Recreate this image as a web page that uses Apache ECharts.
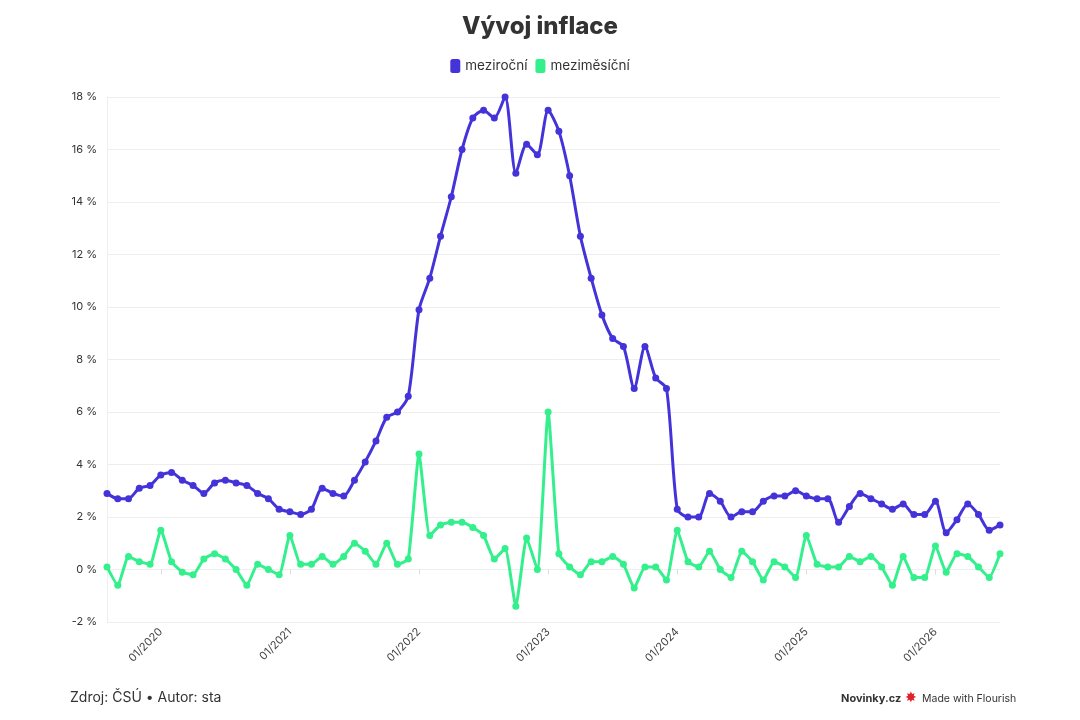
<!DOCTYPE html>
<html lang="cs">
  <head>
    <meta charset="UTF-8" />
    <title>Vývoj inflace</title>
    <script src="https://cdn.jsdelivr.net/npm/echarts@6/dist/echarts.min.js"></script>
    <style>
      html, body { margin: 0; padding: 0; background: #fff; }
      #chart { width: 1080px; height: 720px; }
    </style>
  </head>
  <body>
    <div id="chart"></div>
    <script>
      // months 08/2019 .. 07/2026
      const startYear = 2019;
      const startMonth = 8;
      const monthCount = 84;

      // meziroční (year on year), %
      const yoy = [
        2.9, 2.7, 2.7, 3.1, 3.2,
        3.6, 3.7, 3.4, 3.2, 2.9, 3.3, 3.4, 3.3, 3.2, 2.9, 2.7, 2.3,
        2.2, 2.1, 2.3, 3.1, 2.9, 2.8, 3.4, 4.1, 4.9, 5.8, 6.0, 6.6,
        9.9, 11.1, 12.7, 14.2, 16.0, 17.2, 17.5, 17.2, 18.0, 15.1, 16.2, 15.8,
        17.5, 16.7, 15.0, 12.7, 11.1, 9.7, 8.8, 8.5, 6.9, 8.5, 7.3, 6.9,
        2.3, 2.0, 2.0, 2.9, 2.6, 2.0, 2.2, 2.2, 2.6, 2.8, 2.8, 3.0,
        2.8, 2.7, 2.7, 1.8, 2.4, 2.9, 2.7, 2.5, 2.3, 2.5, 2.1, 2.1,
        2.6, 1.4, 1.9, 2.5, 2.1, 1.5, 1.7
      ];

      // meziměsíční (month on month), %
      const mom = [
        0.1, -0.6, 0.5, 0.3, 0.2,
        1.5, 0.3, -0.1, -0.2, 0.4, 0.6, 0.4, 0.0, -0.6, 0.2, 0.0, -0.2,
        1.3, 0.2, 0.2, 0.5, 0.2, 0.5, 1.0, 0.7, 0.2, 1.0, 0.2, 0.4,
        4.4, 1.3, 1.7, 1.8, 1.8, 1.6, 1.3, 0.4, 0.8, -1.4, 1.2, 0.0,
        6.0, 0.6, 0.1, -0.2, 0.3, 0.3, 0.5, 0.2, -0.7, 0.1, 0.1, -0.4,
        1.5, 0.3, 0.1, 0.7, 0.0, -0.3, 0.7, 0.3, -0.4, 0.3, 0.1, -0.3,
        1.3, 0.2, 0.1, 0.1, 0.5, 0.3, 0.5, 0.1, -0.6, 0.5, -0.3, -0.3,
        0.9, -0.1, 0.6, 0.5, 0.1, -0.3, 0.6
      ];

      const months = [];
      for (let i = 0; i < monthCount; i++) {
        const m = ((startMonth - 1 + i) % 12) + 1;
        const y = startYear + Math.floor((startMonth - 1 + i) / 12);
        months.push((m < 10 ? "0" : "") + m + "/" + y);
      }

      const isJanuary = (idx) => months[idx].startsWith("01/");
      const font = "Inter, 'Noto Sans', sans-serif";
      const blue = "#4433d9";
      const green = "#33f08c";

      const chart = echarts.init(document.getElementById("chart"));

      chart.setOption({
        backgroundColor: "#fff",
        animation: false,
        textStyle: { fontFamily: font },
        title: {
          text: "Vývoj inflace",
          left: "center",
          top: 10,
          textStyle: { fontSize: 24, fontWeight: 800, color: "#333", fontFamily: font }
        },
        legend: {
          top: 54,
          left: "center",
          icon: "roundRect",
          itemWidth: 10,
          itemHeight: 14,
          itemGap: 8,
          textStyle: { fontSize: 13.5, color: "#333", fontFamily: font },
          data: ["meziroční", "meziměsíční"]
        },
        grid: { left: 107, right: 80, top: 97, bottom: 98 },
        xAxis: {
          type: "category",
          data: months,
          boundaryGap: false,
          axisLine: { show: false },
          axisTick: {
            show: true,
            length: 5,
            interval: (idx) => isJanuary(idx),
            lineStyle: { color: "#ddd" }
          },
          axisLabel: {
            interval: (idx) => isJanuary(idx),
            rotate: 45,
            fontSize: 11,
            color: "#444",
            margin: 8
          },
          splitLine: { show: false }
        },
        yAxis: {
          type: "value",
          min: -2,
          max: 18,
          interval: 2,
          axisLine: { show: true, lineStyle: { color: "#eee" } },
          axisTick: { show: false },
          axisLabel: {
            formatter: "{value} %",
            fontSize: 11,
            color: "#333",
            margin: 10
          },
          splitLine: { lineStyle: { color: "#eeeeee" } }
        },
        series: [
          {
            name: "meziroční",
            type: "line",
            data: yoy,
            smooth: 0.25,
            symbol: "circle",
            symbolSize: 7,
            itemStyle: { color: blue },
            lineStyle: { width: 3, color: blue }
          },
          {
            name: "meziměsíční",
            type: "line",
            data: mom,
            smooth: 0.15,
            symbol: "circle",
            symbolSize: 7,
            itemStyle: { color: green },
            lineStyle: { width: 3, color: green }
          }
        ],
        graphic: [
          {
            type: "text",
            left: 70,
            top: 691,
            style: { text: "Zdroj: ČSÚ • Autor: sta", fontSize: 14, fill: "#333", fontFamily: font }
          },
          {
            type: "text",
            left: 841,
            top: 693,
            style: { text: "Novinky.cz", fontSize: 11, fontWeight: "bold", fill: "#333", fontFamily: font }
          },
          {
            type: "text",
            left: 905,
            top: 691,
            style: { text: "✸", fontSize: 14, fill: "#e0202a", fontFamily: "DejaVu Sans" }
          },
          {
            type: "text",
            left: 922,
            top: 693,
            style: { text: "Made with Flourish", fontSize: 10.5, fill: "#333", fontFamily: font }
          }
        ]
      });
    </script>
  </body>
</html>
